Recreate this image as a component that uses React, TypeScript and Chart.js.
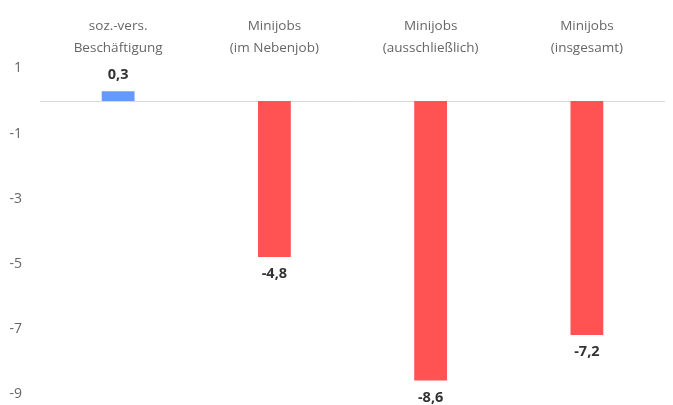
import React, { useEffect, useRef } from "react";
import { Chart, registerables } from "chart.js";

Chart.register(...registerables);

const categories: string[][] = [
  ["soz.-vers.", "Beschäftigung"],
  ["Minijobs", "(im Nebenjob)"],
  ["Minijobs", "(ausschließlich)"],
  ["Minijobs", "(insgesamt)"],
];
const values: number[] = [0.3, -4.8, -8.6, -7.2];
const barColors: string[] = ["#6699FF", "#FF5252", "#FF5252", "#FF5252"];
const yMin = -9;
const yMax = 1;
const yStep = 2;

const FONT = "'Open Sans', 'Noto Sans', sans-serif";

const zeroLine = {
  id: "zeroLine",
  beforeDatasetsDraw(chart: any) {
    const { ctx, chartArea, scales } = chart;
    const y = Math.round(scales.y.getPixelForValue(0)) + 0.5;
    ctx.save();
    ctx.strokeStyle = "#DADADA";
    ctx.lineWidth = 1;
    ctx.beginPath();
    ctx.moveTo(chartArea.left, y);
    ctx.lineTo(chartArea.right, y);
    ctx.stroke();
    ctx.restore();
  },
};

const valueLabels = {
  id: "valueLabels",
  afterDatasetsDraw(chart: any) {
    const { ctx } = chart;
    const meta = chart.getDatasetMeta(0);
    ctx.save();
    ctx.font = `bold 14.5px ${FONT}`;
    ctx.fillStyle = "#333333";
    ctx.textAlign = "center";
    ctx.textBaseline = "middle";
    meta.data.forEach((bar: any, i: number) => {
      const v = values[i];
      const txt = v.toFixed(1).replace(".", ",");
      const y = v >= 0 ? bar.y - 16 : bar.y + 17;
      ctx.fillText(txt, bar.x, y);
    });
    ctx.restore();
  },
};

export default function App() {
  const ref = useRef<HTMLCanvasElement | null>(null);
  useEffect(() => {
    if (!ref.current) return;
    const chart = new Chart(ref.current, {
      type: "bar",
      data: {
        labels: categories,
        datasets: [
          {
            data: values,
            backgroundColor: barColors,
            borderWidth: 0,
            barPercentage: 0.21,
            categoryPercentage: 1,
          },
        ],
      },
      options: {
        animation: false,
        responsive: false,
        maintainAspectRatio: false,
        layout: { padding: { top: 0, bottom: 0, left: 0, right: 8 } },
        plugins: { legend: { display: false }, tooltip: { enabled: false } },
        scales: {
          x: {
            position: "top",
            grid: { display: false, drawTicks: false },
            border: { display: false },
            ticks: {
              color: "#666666",
              font: { family: FONT, size: 13.5, lineHeight: 1.6 },
              padding: 10,
              maxRotation: 0,
              autoSkip: false,
            },
            afterFit(scale: any) {
              scale.height = 68.5;
            },
          },
          y: {
            min: yMin,
            max: yMax,
            grid: { display: false, drawTicks: false },
            border: { display: false },
            ticks: {
              stepSize: yStep,
              color: "#666666",
              font: { family: FONT, size: 14 },
              padding: 18,
            },
            afterFit(scale: any) {
              scale.width = 40;
            },
          },
        },
      },
      plugins: [zeroLine, valueLabels],
    });
    return () => chart.destroy();
  }, []);
  return (
    <div
      style={{
        position: "absolute",
        left: 0,
        top: 0,
        width: 673,
        height: 405,
        overflow: "hidden",
      }}
    >
      <canvas ref={ref} width={673} height={420} style={{ display: "block" }} />
    </div>
  );
}
